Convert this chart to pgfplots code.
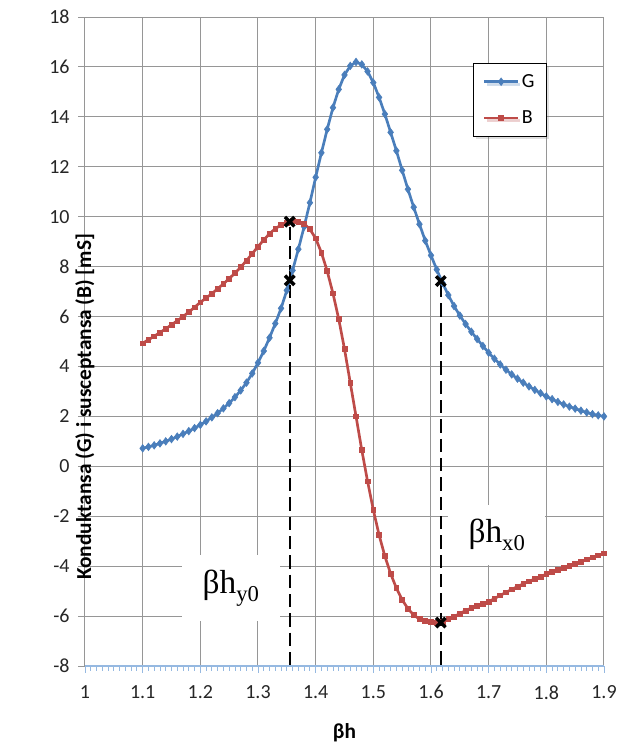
\documentclass[border=0pt]{standalone}
\usepackage{fontspec}
\setmainfont{Carlito}
\newfontfamily\tnr{Liberation Serif}
\usepackage{pgfplots}
\pgfplotsset{compat=1.18}
\usepackage{pgfplotstable}
\usetikzlibrary{shadows}

\definecolor{gblue}{RGB}{74,126,187}
\definecolor{bred}{RGB}{190,75,72}
\definecolor{gridgray}{RGB}{150,150,150}
\definecolor{axblue}{RGB}{150,185,225}

% beta*h, G [mS]
\pgfplotstableread{
x G
1.10 0.72
1.11 0.78
1.12 0.84
1.13 0.92
1.14 1.00
1.15 1.09
1.16 1.19
1.17 1.30
1.18 1.41
1.19 1.53
1.20 1.66
1.21 1.80
1.22 1.96
1.23 2.13
1.24 2.32
1.25 2.53
1.26 2.77
1.27 3.04
1.28 3.35
1.29 3.72
1.30 4.15
1.31 4.62
1.32 5.15
1.33 5.72
1.34 6.33
1.35 7.05
1.36 7.85
1.37 8.70
1.38 9.60
1.39 10.56
1.40 11.58
1.41 12.56
1.42 13.50
1.43 14.37
1.44 15.10
1.45 15.68
1.46 16.04
1.47 16.20
1.48 16.10
1.49 15.82
1.50 15.37
1.51 14.78
1.52 14.11
1.53 13.38
1.54 12.64
1.55 11.86
1.56 11.10
1.57 10.38
1.58 9.70
1.59 9.04
1.60 8.45
1.61 7.88
1.62 7.35
1.63 6.86
1.64 6.42
1.65 6.04
1.66 5.70
1.67 5.39
1.68 5.10
1.69 4.82
1.70 4.55
1.71 4.31
1.72 4.08
1.73 3.87
1.74 3.68
1.75 3.51
1.76 3.35
1.77 3.20
1.78 3.06
1.79 2.93
1.80 2.80
1.81 2.69
1.82 2.58
1.83 2.48
1.84 2.39
1.85 2.31
1.86 2.23
1.87 2.16
1.88 2.09
1.89 2.04
1.90 2.00
}\Gtable

% beta*h, B [mS]
\pgfplotstableread{
x B
1.10 4.93
1.11 5.07
1.12 5.21
1.13 5.36
1.14 5.51
1.15 5.67
1.16 5.83
1.17 6.00
1.18 6.18
1.19 6.37
1.20 6.57
1.21 6.74
1.22 6.92
1.23 7.11
1.24 7.31
1.25 7.52
1.26 7.74
1.27 7.98
1.28 8.24
1.29 8.52
1.30 8.80
1.31 9.07
1.32 9.32
1.33 9.52
1.34 9.67
1.35 9.77
1.36 9.82
1.37 9.80
1.38 9.72
1.39 9.50
1.40 9.13
1.41 8.56
1.42 7.82
1.43 6.93
1.44 5.90
1.45 4.70
1.46 3.35
1.47 2.00
1.48 0.65
1.49 -0.60
1.50 -1.75
1.51 -2.75
1.52 -3.60
1.53 -4.30
1.54 -4.88
1.55 -5.35
1.56 -5.70
1.57 -5.96
1.58 -6.12
1.59 -6.20
1.60 -6.24
1.61 -6.26
1.62 -6.22
1.63 -6.12
1.64 -6.02
1.65 -5.90
1.66 -5.78
1.67 -5.68
1.68 -5.58
1.69 -5.50
1.70 -5.42
1.71 -5.30
1.72 -5.17
1.73 -5.05
1.74 -4.93
1.75 -4.82
1.76 -4.71
1.77 -4.61
1.78 -4.51
1.79 -4.42
1.80 -4.32
1.81 -4.23
1.82 -4.15
1.83 -4.06
1.84 -3.98
1.85 -3.90
1.86 -3.82
1.87 -3.73
1.88 -3.65
1.89 -3.57
1.90 -3.49
}\Btable

\begin{document}
\begin{tikzpicture}
\useasboundingbox (-63.75pt,-60.75pt) rectangle (400.5pt,499.5pt);
\begin{axis}[
    at={(0,0)}, anchor=south west,
    scale only axis,
    width=389.25pt, height=486.75pt,
    xmin=1, xmax=1.9,
    ymin=-8, ymax=18,
    xtick={1,1.1,1.2,1.3,1.4,1.5,1.6,1.7,1.8,1.9},
    ytick={-8,-6,-4,-2,0,2,4,6,8,10,12,14,16,18},
    minor x tick num=9,
    axis lines=left,
    axis line style={-},
    x axis line style={color=axblue, line width=0.9pt},
    y axis line style={color=gridgray, line width=0.75pt},
    tick align=outside,
    major tick length=5pt,
    minor tick length=3.5pt,
    x tick style={color=axblue, line width=0.6pt},
    y tick style={color=gridgray, line width=0.75pt},
    grid=major,
    major grid style={color=gridgray, line width=0.75pt},
    tick label style={font=\fontsize{15}{17}\selectfont, color=black!85},
    /pgf/number format/assume math mode=true,
    xticklabel style={/pgf/number format/fixed, /pgf/number format/precision=1, yshift=-6pt},
    yticklabel style={xshift=-3pt},
    xlabel={\textbf{βh}},
    xlabel style={at={(axis description cs:0.5,0)}, anchor=center, yshift=-50pt, font=\fontsize{16}{18}\selectfont},
    ylabel={\textbf{Konduktansa (G) i susceptansa (B) [mS]}},
    ylabel style={at={(axis description cs:0,0.5)}, anchor=center, xshift=-49pt, font=\fontsize{16}{18}\selectfont},
    legend style={
        at={(0.890,0.929)}, anchor=north east,
        draw=black, line width=0.75pt, fill=white,
        drop shadow={opacity=0.25, shadow xshift=2pt, shadow yshift=-2pt},
        font=\fontsize{15}{17}\selectfont,
        inner xsep=7pt, inner ysep=6pt,
        row sep=12pt, cells={anchor=west}},
    legend image code/.code={
        \draw[mark repeat=2, mark phase=2, #1] plot coordinates {(0pt,0pt) (12.5pt,0pt) (25pt,0pt)};},
    clip=false,
]
\addplot[color=gblue, line width=2pt, mark=diamond*, mark size=2.8pt,
    mark options={solid, fill=gblue, line width=0.5pt}] table[x=x, y=G] {\Gtable};
\addlegendentry{G}
\addplot[color=bred, line width=2pt, mark=square*, mark size=1.8pt,
    mark options={solid, fill=bred, line width=0.5pt}] table[x=x, y=B] {\Btable};
\addlegendentry{B}

% resonance markers
\addplot[black, line width=1.7pt, dash pattern=on 10pt off 4.5pt, forget plot]
    coordinates {(1.355,9.6) (1.355,-8)};
\addplot[black, line width=1.7pt, dash pattern=on 10pt off 4.5pt, forget plot]
    coordinates {(1.617,7.3) (1.617,-8)};
\addplot[only marks, mark=x, mark size=5pt, black, line width=2.6pt, forget plot]
    coordinates {(1.355,9.80) (1.355,7.45) (1.617,7.42) (1.617,-6.26)};

\node[fill=white, minimum width=74pt, minimum height=50pt, inner sep=0pt]
    at (axis cs:1.253,-4.88) {\tnr\fontsize{25}{25}\selectfont βh\raisebox{-0.22em}{\fontsize{17}{17}\selectfont y0}};
\node[fill=white, minimum width=73pt, minimum height=45pt, inner sep=0pt]
    at (axis cs:1.714,-2.75) {\tnr\fontsize{25}{25}\selectfont βh\raisebox{-0.22em}{\fontsize{17}{17}\selectfont x0}};
\end{axis}
\end{tikzpicture}
\end{document}
